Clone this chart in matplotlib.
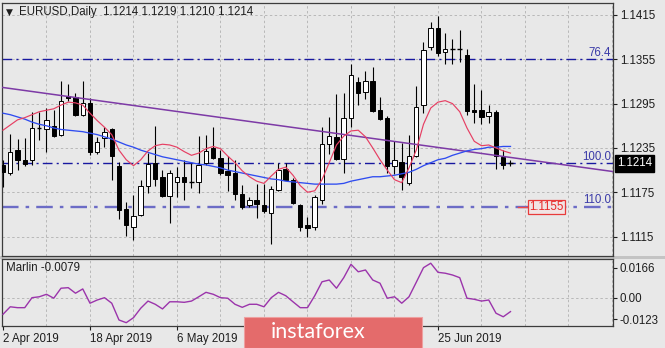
import matplotlib
matplotlib.use("Agg")
import matplotlib.pyplot as plt
from matplotlib.patches import Rectangle

plt.rcParams['font.family'] = ['Liberation Sans', 'DejaVu Sans']
plt.rcParams['axes.unicode_minus'] = False

symbol = "EURUSD"
timeframe = "Daily"

# Daily OHLC, one entry per trading day starting 2 Apr 2019
opens = [1.1212, 1.1201, 1.1232, 1.1218, 1.1218, 1.1262, 1.1261, 1.1265, 1.1252, 1.1305,
         1.1304, 1.1280, 1.1296, 1.1230, 1.1248, 1.1261, 1.1211, 1.1152, 1.1128, 1.1144,
         1.1183, 1.1215, 1.1195, 1.1170, 1.1189, 1.1196, 1.1189, 1.1189, 1.1214, 1.1235,
         1.1222, 1.1204, 1.1201, 1.1173, 1.1158, 1.1165, 1.1158, 1.1147, 1.1178, 1.1206,
         1.1192, 1.1158, 1.1130, 1.1128, 1.1164, 1.1240, 1.1250, 1.1220, 1.1275, 1.1324,
         1.1311, 1.1326, 1.1287, 1.1276, 1.1211, 1.1216, 1.1188, 1.1224, 1.1293, 1.1371,
         1.1397, 1.1365, 1.1369, 1.1369, 1.1361, 1.1286, 1.1286, 1.1278, 1.1283, 1.1223,
         1.1214]
highs = [1.1219, 1.1254, 1.1247, 1.1248, 1.1284, 1.1284, 1.1289, 1.1286, 1.1325, 1.1322,
         1.1309, 1.1325, 1.1302, 1.1250, 1.1264, 1.1262, 1.1216, 1.1162, 1.1171, 1.1192,
         1.1228, 1.1265, 1.1205, 1.1205, 1.1209, 1.1218, 1.1215, 1.1251, 1.1252, 1.1263,
         1.1232, 1.1224, 1.1218, 1.1185, 1.1169, 1.1186, 1.1186, 1.1183, 1.1214, 1.1215,
         1.1194, 1.1159, 1.1142, 1.1171, 1.1263, 1.1277, 1.1308, 1.1309, 1.1349, 1.1331,
         1.1339, 1.1344, 1.1304, 1.1278, 1.1245, 1.1241, 1.1252, 1.1319, 1.1379, 1.1405,
         1.1414, 1.1391, 1.1383, 1.1394, 1.1369, 1.1322, 1.1313, 1.1293, 1.1287, 1.1232,
         1.1219]
lows = [1.1182, 1.1198, 1.1205, 1.1210, 1.1212, 1.1246, 1.1229, 1.1250, 1.1251, 1.1298,
        1.1278, 1.1278, 1.1225, 1.1227, 1.1236, 1.1192, 1.1139, 1.1116, 1.1110, 1.1143,
        1.1174, 1.1183, 1.1169, 1.1133, 1.1169, 1.1165, 1.1181, 1.1174, 1.1212, 1.1220,
        1.1198, 1.1177, 1.1165, 1.1153, 1.1155, 1.1140, 1.1147, 1.1105, 1.1177, 1.1191,
        1.1159, 1.1123, 1.1115, 1.1124, 1.1159, 1.1227, 1.1218, 1.1201, 1.1263, 1.1293,
        1.1301, 1.1283, 1.1273, 1.1201, 1.1200, 1.1178, 1.1185, 1.1223, 1.1282, 1.1368,
        1.1359, 1.1348, 1.1348, 1.1352, 1.1280, 1.1269, 1.1268, 1.1269, 1.1206, 1.1206,
        1.1210]
closes = [1.1202, 1.1230, 1.1219, 1.1213, 1.1262, 1.1263, 1.1273, 1.1251, 1.1299, 1.1303,
          1.1280, 1.1296, 1.1229, 1.1243, 1.1257, 1.1224, 1.1151, 1.1130, 1.1143, 1.1183,
          1.1213, 1.1193, 1.1170, 1.1201, 1.1196, 1.1189, 1.1190, 1.1212, 1.1231, 1.1222,
          1.1201, 1.1199, 1.1173, 1.1155, 1.1165, 1.1159, 1.1149, 1.1179, 1.1205, 1.1192,
          1.1160, 1.1128, 1.1126, 1.1168, 1.1240, 1.1251, 1.1220, 1.1275, 1.1334, 1.1310,
          1.1326, 1.1285, 1.1274, 1.1210, 1.1218, 1.1196, 1.1224, 1.1291, 1.1368, 1.1398,
          1.1364, 1.1369, 1.1369, 1.1368, 1.1285, 1.1284, 1.1277, 1.1284, 1.1224, 1.1212,
          1.1214]

# Fast (red) and slow (blue) moving averages
ma_fast = [1.1259, 1.1266, 1.1273, 1.1276, 1.1280, 1.1284, 1.1286, 1.1288, 1.1293, 1.1297,
           1.1296, 1.1293, 1.1282, 1.1272, 1.1263, 1.1253, 1.1232, 1.1219, 1.1211, 1.1219,
           1.1231, 1.1238, 1.1240, 1.1239, 1.1236, 1.1230, 1.1225, 1.1228, 1.1234, 1.1237,
           1.1234, 1.1224, 1.1215, 1.1204, 1.1196, 1.1190, 1.1187, 1.1197, 1.1206, 1.1209,
           1.1198, 1.1184, 1.1175, 1.1177, 1.1192, 1.1215, 1.1239, 1.1251, 1.1258, 1.1259,
           1.1250, 1.1235, 1.1219, 1.1205, 1.1192, 1.1188, 1.1208, 1.1232, 1.1267, 1.1289,
           1.1297, 1.1299, 1.1295, 1.1284, 1.1262, 1.1244, 1.1238, 1.1239, 1.1235, 1.1231,
           1.1228]
ma_slow = [1.1282, 1.1280, 1.1277, 1.1274, 1.1270, 1.1267, 1.1265, 1.1262, 1.1260, 1.1259,
           1.1258, 1.1257, 1.1255, 1.1253, 1.1250, 1.1247, 1.1243, 1.1239, 1.1236, 1.1232,
           1.1229, 1.1226, 1.1223, 1.1221, 1.1219, 1.1217, 1.1215, 1.1213, 1.1212, 1.1210,
           1.1208, 1.1205, 1.1203, 1.1201, 1.1199, 1.1197, 1.1195, 1.1193, 1.1192, 1.1190,
           1.1189, 1.1188, 1.1187, 1.1186, 1.1186, 1.1186, 1.1186, 1.1187, 1.1190, 1.1192,
           1.1194, 1.1196, 1.1196, 1.1197, 1.1198, 1.1200, 1.1202, 1.1206, 1.1211, 1.1215,
           1.1219, 1.1221, 1.1225, 1.1228, 1.1231, 1.1233, 1.1234, 1.1236, 1.1236, 1.1237,
           1.1237]

# Marlin oscillator
marlin = [-0.0094, -0.0052, -0.0057, -0.0057, -0.0001, 0.0004, 0.0018, -0.0004, 0.0052, 0.0055,
          0.0024, 0.0048, -0.0032, -0.0014, -0.0001, -0.0032, -0.0126, -0.0141, -0.0113, -0.0060,
          -0.0020, -0.0038, -0.0064, -0.0024, -0.0024, -0.0027, -0.0020, 0.0004, 0.0029, 0.0018,
          -0.0001, -0.0004, -0.0038, -0.0055, -0.0038, -0.0038, -0.0052, -0.0001, 0.0029, 0.0010,
          -0.0024, -0.0057, -0.0057, 0.0010, 0.0088, 0.0098, 0.0052, 0.0111, 0.0186, 0.0144,
          0.0154, 0.0098, 0.0080, -0.0004, 0.0004, -0.0032, 0.0004, 0.0085, 0.0167, 0.0192,
          0.0141, 0.0136, 0.0126, 0.0111, -0.0004, -0.0010, -0.0020, -0.0014, -0.0088, -0.0108,
          -0.0079]

date_ticks = [0, 12, 24, 60]
date_labels = ["2 Apr 2019", "18 Apr 2019", "6 May 2019", "25 Jun 2019"]

price_ticks = [1.1415, 1.1355, 1.1295, 1.1235, 1.1175, 1.1115]
price_tick_labels = ["1.1415", "1.1355", "1.1295", "1.1235", "1.1175", "1.1115"]

fib_levels = ["76.4", "100.0", "110.0"]
fib_prices = [1.1355, 1.1214, 1.1155]

trend_x = [0, 84]
trend_y = [1.13168, 1.12032]

target_price = 1.1155

marlin_ticks = [0.0166, 0.0, -0.0123]
marlin_tick_labels = ["0.0166", "0.00", "-0.0123"]

# ---------------------------------------------------------------- layout
W, H = 665, 348
BG = '#e8e8e8'
FRAME = '#3c3c3c'
GRID = '#b8b8b8'


def fx(px):
    return px / W


def fy(py):
    return 1 - py / H


fig = plt.figure(figsize=(W / 100, H / 100), dpi=100, facecolor=BG)

ax = fig.add_axes([fx(2), fy(256), fx(613) - fx(2), fy(3) - fy(256)], facecolor=BG)
ax2 = fig.add_axes([fx(2), fy(326), fx(613) - fx(2), fy(259) - fy(326)], facecolor=BG)

# separator between the two windows
fig.patches.append(Rectangle((0, fy(259)), 1, fy(256) - fy(259), transform=fig.transFigure,
                             facecolor='#c4c4c4', edgecolor='none', zorder=-1))

xmin, xmax = -0.138, 84.14
for a in (ax, ax2):
    a.set_xlim(xmin, xmax)
    for s in a.spines.values():
        s.set_color(FRAME)
        s.set_linewidth(0.9)
    for gx in range(6, 85, 6):
        a.axvline(gx, color=GRID, lw=0.7, ls=(0, (2.5, 2.5)), zorder=0)

ax.set_ylim(1.10887, 1.14312)
ax2.set_ylim(-0.01596, 0.02156)

# ---------------------------------------------------------------- price window
for p in price_ticks:
    ax.axhline(p, color=GRID, lw=0.7, ls=(0, (2.5, 2.5)), zorder=0)

ax.yaxis.tick_right()
ax.set_yticks(price_ticks)
ax.set_yticklabels(price_tick_labels)
ax.tick_params(axis='y', direction='out', length=3, width=0.8, pad=2,
               labelsize=8.3, colors='#1e1e1e')
ax.set_xticks([])

# Fibonacci levels
fib_styles = [dict(color='#1818a0', lw=1.0), dict(color='#1818a0', lw=1.0),
              dict(color='#6c6cc6', lw=1.7)]
for lvl, price, st in zip(fib_levels, fib_prices, fib_styles):
    ax.axhline(price, ls=(0, (7, 3, 1.5, 3)), zorder=1, **st)
    ax.annotate(lvl, xy=(83.9, price), xytext=(0, 0.5), textcoords='offset points',
                ha='right', va='bottom', fontsize=8.3, color='#3a3aa8', zorder=6)

# trendline
ax.axline((trend_x[0], trend_y[0]), (trend_x[1], trend_y[1]), color='#7d3aa6', lw=1.1, zorder=5)

# candles
body_w = 0.62
for i, (o, h, l, c) in enumerate(zip(opens, highs, lows, closes)):
    ax.vlines(i, l, h, color='black', lw=0.8, zorder=3)
    if abs(c - o) < 0.00012:
        ax.hlines((o + c) / 2, i - body_w / 2, i + body_w / 2, color='black', lw=1.0, zorder=4)
    else:
        fc = 'white' if c > o else 'black'
        ax.add_patch(Rectangle((i - body_w / 2, min(o, c)), body_w, abs(c - o),
                               facecolor=fc, edgecolor='black', lw=0.7, zorder=4))

xs = list(range(len(closes)))
ax.plot(xs, ma_slow, color='#2f4cf0', lw=0.95, zorder=5)
ax.plot(xs, ma_fast, color='#e63f63', lw=0.85, zorder=5)

# target price label
ax.plot([71.0, 72.6], [target_price, target_price], color='#ee4a4a', lw=1.0, zorder=6)
ax.text(75.0, target_price, f"{target_price:.4f}", ha='center', va='center',
        fontsize=8.3, color='#e82828', zorder=7,
        bbox=dict(boxstyle='square,pad=0.12', facecolor='#f1e4e4', edgecolor='#e83a3a', lw=0.9))

# current price marker on the scale
ax.annotate(f"{closes[-1]:.4f}", xy=(1.0, closes[-1]), xycoords=('axes fraction', 'data'),
            xytext=(3, 0), textcoords='offset points', ha='left', va='center',
            fontsize=8.3, color='white', annotation_clip=False, zorder=8,
            bbox=dict(boxstyle='square,pad=0.18', facecolor='black', edgecolor='black'))

# header
last = (opens[-1], highs[-1], lows[-1], closes[-1])
fig.text(fx(6), fy(12), "\u25BC", fontsize=6.5, va='center', ha='left', color='#1e1e1e',
         family=['DejaVu Sans'])
fig.text(fx(19), fy(12), f"{symbol},{timeframe}  " + " ".join(f"{v:.4f}" for v in last),
         fontsize=8.3, va='center', ha='left', color='#1e1e1e')

# ---------------------------------------------------------------- Marlin window
ax2.axhline(0, color=GRID, lw=0.7, ls=(0, (2.5, 2.5)), zorder=0)
ax2.plot(xs, marlin, color='#9b34ab', lw=1.0, zorder=3)
ax2.yaxis.tick_right()
ax2.set_yticks(marlin_ticks)
ax2.set_yticklabels(marlin_tick_labels)
ax2.tick_params(axis='y', direction='out', length=3, width=0.8, pad=2,
                labelsize=8.3, colors='#1e1e1e')
ax2.set_xticks(date_ticks)
ax2.set_xticklabels(date_labels)
ax2.tick_params(axis='x', direction='out', length=3, width=0.8, pad=2,
                labelsize=8.3, colors='#1e1e1e')
for lab in ax2.get_xticklabels():
    lab.set_ha('left')
ax2.text(0.006, 0.86, f"Marlin {marlin[-1]:.4f}", transform=ax2.transAxes,
         fontsize=8.3, ha='left', va='center', color='#1e1e1e')

# ---------------------------------------------------------------- watermark
fig.patches.append(Rectangle((fx(244), fy(348)), fx(422) - fx(244), fy(317) - fy(348),
                             transform=fig.transFigure, facecolor='#e46b6b',
                             edgecolor='#eea0a0', lw=0.8, zorder=20))
fig.text(fx(318), fy(332), "instaforex", fontsize=15.5, color='white', ha='center',
         va='center', family=['Lato', 'DejaVu Sans'], zorder=21)

fig.savefig("out.png", dpi=100, facecolor=BG)
